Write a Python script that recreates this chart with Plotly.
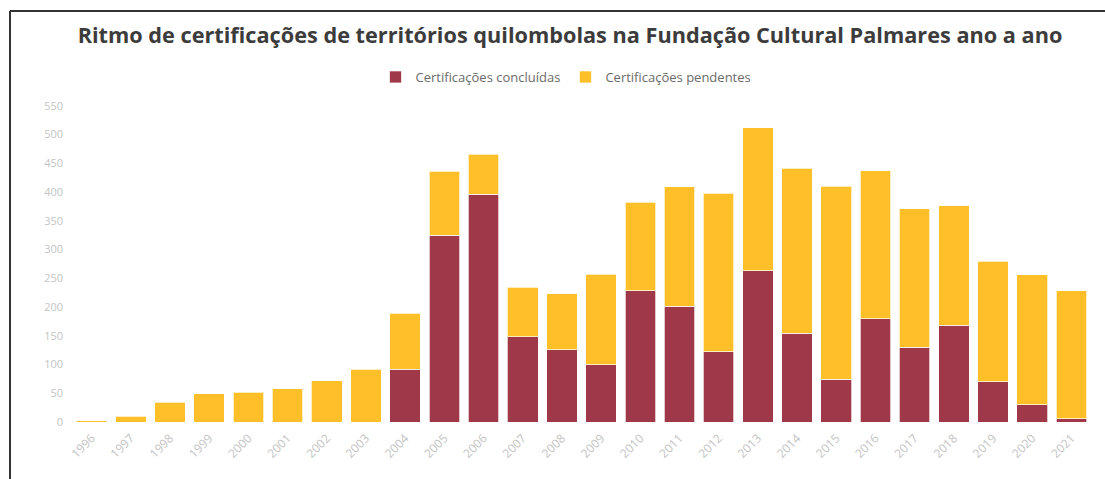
import plotly.graph_objects as go

years = [str(y) for y in range(1996, 2022)]
concluidas = [0, 0, 0, 0, 0, 0, 0, 0, 92, 325, 396, 148, 126, 100, 228, 201, 122, 263, 154, 74, 180, 130, 168, 70, 30, 6]
pendentes = [2, 10, 34, 49, 52, 58, 72, 92, 97, 111, 70, 86, 97, 157, 154, 208, 276, 249, 287, 336, 257, 241, 208, 210, 226, 222]
y_ticks = list(range(0, 551, 50))

RED = "#9F3849"
YEL = "#FEBF29"

W, H = 1105, 479
ml, mr, mt, mb = 72, 14, 100, 57
pw = W - ml - mr
ph = H - mt - mb

def px_x(x):
    return (x - ml) / pw

def px_y(y):
    return (H - mb - y) / ph

fig = go.Figure()
fig.add_trace(go.Bar(x=years, y=concluidas, name="Certificações concluídas",
                     marker=dict(color=RED, line=dict(color="rgba(255,255,255,0.7)", width=1))))
fig.add_trace(go.Bar(x=years, y=pendentes, name="Certificações pendentes",
                     marker=dict(color=YEL, line=dict(color="rgba(255,255,255,0.7)", width=1))))

fig.update_layout(
    width=W, height=H,
    barmode="stack", bargap=0.22,
    margin=dict(l=ml, r=mr, t=mt, b=mb, autoexpand=False),
    paper_bgcolor="white", plot_bgcolor="white",
    font=dict(family="Open Sans, sans-serif"),
    title=dict(text="<b>Ritmo de certificações de territórios quilombolas na Fundação Cultural Palmares ano a ano</b>",
               x=570 / W, xanchor="center", y=1 - 35 / H, yanchor="middle",
               font=dict(size=21.7, color="#3c3c3c", family="Open Sans, sans-serif")),
    legend=dict(orientation="h", x=px_x(566), xanchor="center", y=px_y(77), yanchor="middle",
                font=dict(size=13, color="#6b6b6b"), traceorder="normal",
                bgcolor="rgba(0,0,0,0)"),
    xaxis=dict(tickangle=-45, tickfont=dict(size=12, color="#c4c4c4"), showgrid=False,
               showline=False, zeroline=False, ticks="", automargin=False, ticklabelstandoff=6),
    yaxis=dict(range=[0, 560], tickvals=y_ticks, tickfont=dict(size=11, color="#c4c4c4"),
               showgrid=False, zeroline=False, showline=False, ticks="", automargin=False,
               ticklabelstandoff=8),
    showlegend=True,
)

# frame lines (screenshot border)
fig.add_shape(type="line", xref="paper", yref="paper",
              x0=px_x(10), x1=px_x(1106), y0=px_y(11), y1=px_y(11),
              line=dict(color="#333333", width=2))
fig.add_shape(type="line", xref="paper", yref="paper",
              x0=px_x(10), x1=px_x(10), y0=px_y(11), y1=px_y(480),
              line=dict(color="#333333", width=2))

fig.write_html("out.html", config={"displayModeBar": False},
               post_script="document.body.style.margin='0';")
